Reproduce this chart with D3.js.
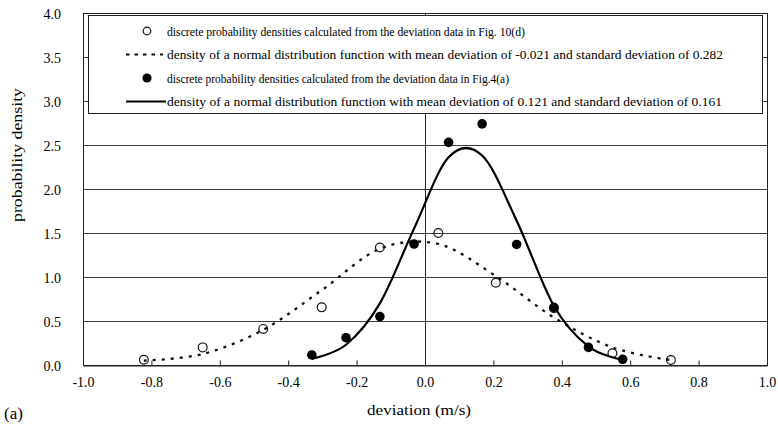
<!DOCTYPE html>
<html>
<head>
<meta charset="utf-8">
<script src="https://cdn.jsdelivr.net/npm/d3@7"></script>
<style>
  html, body { margin: 0; padding: 0; background: #fff; }
  svg { display: block; }
  text { font-family: "Liberation Serif", "DejaVu Serif", serif; fill: #000; }
</style>
</head>
<body>
<svg id="chart" width="778" height="429"></svg>
<script>
// Discrete densities from the Fig. 10(d) deviation data (open circles)
const openX = [-0.822, -0.650, -0.473, -0.302, -0.132, 0.039, 0.207, 0.377, 0.548, 0.719];
const openY = [0.06, 0.20, 0.41, 0.655, 1.335, 1.50, 0.935, 0.644, 0.133, 0.057];

// Normal density with mean -0.021 and s.d. 0.282, at the same deviations (dashed)
const dashedY = [0.05, 0.125, 0.40, 0.85, 1.32, 1.375, 1.01, 0.54, 0.20, 0.055];

// Discrete densities from the Fig. 4(a) deviation data (filled circles)
const filledX = [-0.331, -0.231, -0.132, -0.032, 0.069, 0.167, 0.268, 0.377, 0.478, 0.578];
const filledY = [0.114, 0.31, 0.55, 1.375, 2.53, 2.74, 1.37, 0.655, 0.20, 0.065];

// Normal density with mean 0.121 and s.d. 0.161, at the same deviations (solid)
const solidY = [0.07, 0.23, 0.70, 1.55, 2.36, 2.38, 1.64, 0.67, 0.21, 0.06];

// Axis ticks
const xTicks = [-1.0, -0.8, -0.6, -0.4, -0.2, 0.0, 0.2, 0.4, 0.6, 0.8, 1.0];
const xTickLabels = ["-1.0", "-0.8", "-0.6", "-0.4", "-0.2", "0.0", "0.2", "0.4", "0.6", "0.8", "1.0"];
const yTicks = [0.0, 0.5, 1.0, 1.5, 2.0, 2.5, 3.0, 3.5, 4.0];
const yTickLabels = ["0.0", "0.5", "1.0", "1.5", "2.0", "2.5", "3.0", "3.5", "4.0"];

const legendLabels = [
  "discrete probability densities calculated from the deviation data in Fig. 10(d)",
  "density of a normal distribution function with mean deviation of -0.021  and standard deviation of 0.282",
  "discrete probability densities calculated from the deviation data in Fig.4(a)",
  "density of a normal distribution  function with mean deviation of 0.121 and standard deviation of 0.161"
];

const svg = d3.select("#chart");
const x = d3.scaleLinear().domain([-1, 1]).range([83, 767]);
const y = d3.scaleLinear().domain([0, 4]).range([365, 13]);

// Horizontal gridlines
svg.append("g")
  .selectAll("line")
  .data(yTicks.filter(d => d > 0 && d < 4))
  .join("line")
  .attr("x1", x(-1)).attr("x2", x(1))
  .attr("y1", d => Math.round(y(d)) + 0.5).attr("y2", d => Math.round(y(d)) + 0.5)
  .attr("stroke", "#3a3a3a").attr("stroke-width", 1);

// Plot frame
svg.append("rect")
  .attr("x", x(-1) + 0.5).attr("y", Math.round(y(4)) + 0.5)
  .attr("width", x(1) - x(-1)).attr("height", Math.round(y(0)) - Math.round(y(4)))
  .attr("fill", "none").attr("stroke", "#222").attr("stroke-width", 1);

// Vertical axis line at zero deviation
svg.append("line")
  .attr("x1", Math.round(x(0)) + 0.5).attr("x2", Math.round(x(0)) + 0.5)
  .attr("y1", y(4)).attr("y2", y(0))
  .attr("stroke", "#222").attr("stroke-width", 1);

// X axis (ticks point inward)
const xAxis = svg.append("g")
  .attr("transform", `translate(0,${Math.round(y(0)) + 0.5})`)
  .call(d3.axisBottom(x).tickValues(xTicks)
    .tickFormat((d, i) => xTickLabels[i]).tickSize(-5).tickPadding(11));
xAxis.select(".domain").attr("stroke", "#222");
xAxis.selectAll(".tick line").attr("stroke", "#222");
xAxis.selectAll("text").attr("font-size", 14).attr("font-family", "Liberation Serif")
  .attr("dy", null).attr("y", 21);

// Y axis labels
const yAxis = svg.append("g")
  .attr("transform", `translate(${x(-1)},0)`)
  .call(d3.axisLeft(y).tickValues(yTicks)
    .tickFormat((d, i) => yTickLabels[i]).tickSize(0).tickPadding(22));
yAxis.select(".domain").remove();
yAxis.selectAll("text").attr("font-size", 14).attr("font-family", "Liberation Serif")
  .attr("dy", null).attr("y", 5);

// Axis titles
svg.append("text")
  .attr("transform", "translate(22,155) rotate(-90)")
  .attr("text-anchor", "middle").attr("font-size", 15)
  .attr("textLength", 134).attr("lengthAdjust", "spacingAndGlyphs")
  .text("probability density");
svg.append("text")
  .attr("x", 419).attr("y", 415)
  .attr("text-anchor", "middle").attr("font-size", 15)
  .attr("textLength", 104).attr("lengthAdjust", "spacingAndGlyphs")
  .text("deviation (m/s)");
svg.append("text")
  .attr("x", 4).attr("y", 419)
  .attr("font-size", 17)
  .text("(a)");

// Legend box
const lg = svg.append("g");
lg.append("rect")
  .attr("x", 88.5).attr("y", 15.5).attr("width", 674).attr("height", 98)
  .attr("fill", "#fff").attr("stroke", "#222").attr("stroke-width", 1);
const rowY = [31, 54.5, 78, 101.5];
const textEnds = [525, 723, 509, 722];
legendLabels.forEach((t, i) => {
  lg.append("text")
    .attr("x", 167).attr("y", rowY[i] + 4.5)
    .attr("font-size", 13.5)
    .attr("textLength", textEnds[i] - 167)
    .attr("lengthAdjust", "spacingAndGlyphs")
    .text(t);
});
lg.append("circle").attr("cx", 147).attr("cy", rowY[0]).attr("r", 3.8)
  .attr("fill", "#fff").attr("stroke", "#111").attr("stroke-width", 1.2);
lg.append("line").attr("x1", 126).attr("x2", 163).attr("y1", rowY[1]).attr("y2", rowY[1])
  .attr("stroke", "#111").attr("stroke-width", 2).attr("stroke-dasharray", "3.5,5");
lg.append("circle").attr("cx", 147).attr("cy", rowY[2]).attr("r", 4.6).attr("fill", "#000");
lg.append("line").attr("x1", 126).attr("x2", 166).attr("y1", rowY[3]).attr("y2", rowY[3])
  .attr("stroke", "#000").attr("stroke-width", 2);

// Series
const smooth = d3.line()
  .x(d => x(d[0])).y(d => y(d[1]))
  .curve(d3.curveCatmullRom.alpha(0));

const openPts = openX.map((v, i) => [v, openY[i]]);
const dashedPts = openX.map((v, i) => [v, dashedY[i]]);
const filledPts = filledX.map((v, i) => [v, filledY[i]]);
const solidPts = filledX.map((v, i) => [v, solidY[i]]);

svg.append("g").selectAll("circle").data(openPts).join("circle")
  .attr("cx", d => x(d[0])).attr("cy", d => y(d[1])).attr("r", 4.4)
  .attr("fill", "none").attr("stroke", "#111").attr("stroke-width", 1.2);

svg.append("path").datum(dashedPts)
  .attr("d", smooth)
  .attr("fill", "none").attr("stroke", "#111").attr("stroke-width", 2.3)
  .attr("stroke-dasharray", "3,6");

svg.append("g").selectAll("circle").data(filledPts).join("circle")
  .attr("cx", d => x(d[0])).attr("cy", d => y(d[1])).attr("r", 4.8)
  .attr("fill", "#000");

svg.append("path").datum(solidPts)
  .attr("d", smooth)
  .attr("fill", "none").attr("stroke", "#000").attr("stroke-width", 2.2);
</script>
</body>
</html>
